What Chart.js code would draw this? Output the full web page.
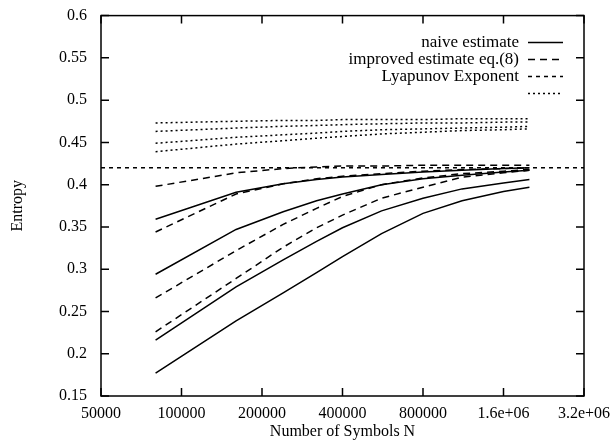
<!DOCTYPE html>
<html>
<head>
<meta charset="utf-8">
<script src="https://cdn.jsdelivr.net/npm/chart.js@4.4.1/dist/chart.umd.min.js"></script>
<style>
  html, body { margin: 0; padding: 0; background: #fff; }
</style>
</head>
<body>
<canvas id="entropyChart" width="613" height="441"></canvas>
<script>
// number of symbols where the estimates were evaluated
const xValues = [80000, 160000, 240000, 320000, 400000, 560000, 800000, 1120000, 1600000, 2000000];

// naive estimate (solid)
const naive1 = [0.359, 0.391, 0.401, 0.406, 0.409, 0.412, 0.415, 0.417, 0.419, 0.420];
const naive2 = [0.294, 0.347, 0.368, 0.381, 0.389, 0.400, 0.407, 0.411, 0.415, 0.417];
const naive3 = [0.216, 0.279, 0.311, 0.333, 0.349, 0.369, 0.384, 0.395, 0.402, 0.406];
const naive4 = [0.177, 0.239, 0.272, 0.296, 0.315, 0.342, 0.366, 0.381, 0.392, 0.397];

// improved estimate eq.(8) (dashed)
const improved1 = [0.398, 0.414, 0.419, 0.421, 0.422, 0.422, 0.423, 0.423, 0.423, 0.423];
const improved2 = [0.344, 0.389, 0.401, 0.407, 0.410, 0.413, 0.416, 0.418, 0.419, 0.420];
const improved3 = [0.266, 0.322, 0.353, 0.372, 0.386, 0.400, 0.408, 0.413, 0.416, 0.418];
const improved4 = [0.226, 0.289, 0.326, 0.349, 0.364, 0.384, 0.397, 0.409, 0.414, 0.417];

// unlabelled dotted series
const dotted1 = [0.473, 0.475, 0.476, 0.476, 0.477, 0.477, 0.477, 0.478, 0.478, 0.478];
const dotted2 = [0.463, 0.467, 0.469, 0.470, 0.471, 0.472, 0.473, 0.473, 0.474, 0.474];
const dotted3 = [0.449, 0.456, 0.459, 0.461, 0.463, 0.465, 0.466, 0.467, 0.468, 0.469];
const dotted4 = [0.439, 0.448, 0.452, 0.455, 0.457, 0.460, 0.462, 0.464, 0.465, 0.466];

// Lyapunov exponent, constant over the whole range
const lyapunovX = [50000, 3200000];
const lyapunovY = [0.42, 0.42];

const xTicks = [50000, 100000, 200000, 400000, 800000, 1600000, 3200000];
const xTickLabels = ['50000', '100000', '200000', '400000', '800000', '1.6e+06', '3.2e+06'];
const yTicks = [0.15, 0.2, 0.25, 0.3, 0.35, 0.4, 0.45, 0.5, 0.55, 0.6];
const yTickLabels = ['0.15', '0.2', '0.25', '0.3', '0.35', '0.4', '0.45', '0.5', '0.55', '0.6'];

const legendLabels = ['naive estimate', 'improved estimate eq.(8)', 'Lyapunov Exponent', ''];

const FONT = 'Liberation Serif';
Chart.defaults.font.family = FONT;
Chart.defaults.font.size = 16;
Chart.defaults.color = '#000';
const dashes = [[], [7, 5], [4, 4], [2, 3]];

function line(xs, ys, group) {
    return {
        label: legendLabels[group],
        data: xs.map((x, i) => ({ x: x, y: ys[i] })),
        borderColor: '#000',
        borderWidth: 1.5,
        borderDash: dashes[group],
        pointRadius: 0,
        fill: false,
        tension: 0
    };
}

const datasets = [
    line(xValues, naive1, 0), line(xValues, naive2, 0), line(xValues, naive3, 0), line(xValues, naive4, 0),
    line(xValues, improved1, 1), line(xValues, improved2, 1), line(xValues, improved3, 1), line(xValues, improved4, 1),
    line(lyapunovX, lyapunovY, 2),
    line(xValues, dotted1, 3), line(xValues, dotted2, 3), line(xValues, dotted3, 3), line(xValues, dotted4, 3)
];

// box round the plot with inward ticks on every side (gnuplot style)
const framePlugin = {
    id: 'frame',
    afterDatasetsDraw(chart) {
        const { ctx, chartArea: a } = chart;
        const x = chart.scales.x, y = chart.scales.y;
        ctx.save();
        ctx.setLineDash([]);
        ctx.strokeStyle = '#000';
        ctx.lineWidth = 1.5;
        ctx.strokeRect(a.left, a.top, a.right - a.left, a.bottom - a.top);
        ctx.beginPath();
        xTicks.forEach(v => {
            const px = x.getPixelForValue(v);
            ctx.moveTo(px, a.bottom); ctx.lineTo(px, a.bottom - 8);
            ctx.moveTo(px, a.top); ctx.lineTo(px, a.top + 8);
        });
        yTicks.forEach(v => {
            const py = y.getPixelForValue(v);
            ctx.moveTo(a.left, py); ctx.lineTo(a.left + 8, py);
            ctx.moveTo(a.right, py); ctx.lineTo(a.right - 8, py);
        });
        ctx.stroke();
        ctx.restore();
    }
};

// key in the top right corner: text right aligned, sample line after it
const keyPlugin = {
    id: 'key',
    afterDraw(chart) {
        const ctx = chart.ctx;
        const a = chart.chartArea;
        const textRight = a.right - 65;
        const lineX0 = a.right - 56, lineX1 = a.right - 21;
        ctx.save();
        ctx.font = '17px "' + FONT + '"';
        ctx.fillStyle = '#000';
        ctx.textAlign = 'right';
        ctx.textBaseline = 'middle';
        legendLabels.forEach((lab, i) => {
            const yy = a.top + 27 + i * 17;
            ctx.fillText(lab, textRight, yy);
            ctx.beginPath();
            ctx.setLineDash(dashes[i]);
            ctx.lineWidth = 1.5;
            ctx.strokeStyle = '#000';
            ctx.moveTo(lineX0, yy);
            ctx.lineTo(lineX1, yy);
            ctx.stroke();
        });
        ctx.restore();
    }
};

new Chart(document.getElementById('entropyChart'), {
    type: 'line',
    data: { datasets: datasets },
    plugins: [framePlugin, keyPlugin],
    options: {
        responsive: false,
        animation: false,
        layout: { padding: { top: 13, right: 29, left: 4, bottom: 0 } },
        plugins: {
            legend: { display: false },
            tooltip: { enabled: false }
        },
        scales: {
            x: {
                type: 'logarithmic',
                min: 50000,
                max: 3200000,
                grid: { display: false },
                border: { display: false },
                afterBuildTicks: scale => { scale.ticks = xTicks.map(v => ({ value: v })); },
                afterFit: scale => { scale.height = 45; },
                ticks: {
                    color: '#000',
                    font: { family: FONT, size: 16, lineHeight: 1 },
                    padding: 2,
                    maxRotation: 0,
                    autoSkip: false,
                    callback: (v, i) => xTickLabels[i]
                },
                title: {
                    display: true,
                    text: 'Number of Symbols N',
                    color: '#000',
                    font: { family: FONT, size: 16, lineHeight: 1 },
                    padding: { top: 0, bottom: 1 }
                }
            },
            y: {
                type: 'linear',
                min: 0.15,
                max: 0.6,
                grid: { display: false },
                border: { display: false },
                afterBuildTicks: scale => { scale.ticks = yTicks.map(v => ({ value: v })); },
                afterFit: scale => { scale.width = 97; },
                ticks: {
                    color: '#000',
                    font: { family: FONT, size: 16 },
                    padding: 6,
                    callback: (v, i) => yTickLabels[i]
                },
                title: {
                    display: true,
                    text: 'Entropy',
                    color: '#000',
                    font: { family: FONT, size: 16 },
                    padding: { top: 4, bottom: 4 }
                }
            }
        }
    }
});
</script>
</body>
</html>
